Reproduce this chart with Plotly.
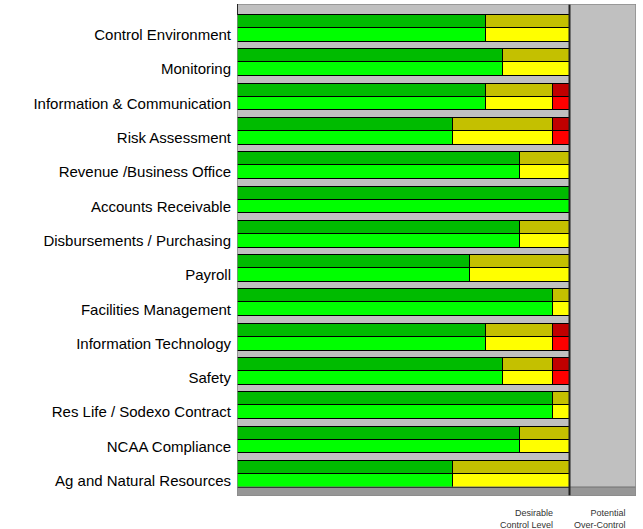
import plotly.graph_objects as go

categories = [
    "Control Environment", "Monitoring", "Information & Communication",
    "Risk Assessment", "Revenue /Business Office", "Accounts Receivable",
    "Disbursements / Purchasing", "Payroll", "Facilities Management",
    "Information Technology", "Safety", "Res Life / Sodexo Contract",
    "NCAA Compliance", "Ag and Natural Resources",
]
green = [75, 80, 75, 65, 85, 100, 85, 70, 95, 75, 80, 95, 85, 65]
yellow = [25, 20, 20, 30, 15, 0, 15, 30, 5, 20, 15, 5, 15, 35]
red = [0, 0, 5, 5, 0, 0, 0, 0, 0, 5, 5, 0, 0, 0]

region_labels = ["Desirable<br>Control Level", "Potential<br>Over-Control"]

# layout geometry (pixel-like units on the y axis)
PITCH = 34.3
H = 492
y_top = [17.5 + PITCH * i for i in range(len(categories))]
y_front = [30.9 + PITCH * i for i in range(len(categories))]

dark = {"g": "#00BB00", "y": "#C4C000", "r": "#C00000"}
bright = {"g": "#00FF00", "y": "#FFFF00", "r": "#FF0000"}

fig = go.Figure()
line = dict(color="#000000", width=1.3)
for key, vals in (("g", green), ("y", yellow), ("r", red)):
    fig.add_trace(go.Bar(x=vals, y=y_top, orientation="h", width=13,
                         marker=dict(color=dark[key], line=line),
                         showlegend=False, hoverinfo="skip"))
for key, vals in (("g", green), ("y", yellow), ("r", red)):
    fig.add_trace(go.Bar(x=vals, y=y_front, orientation="h", width=13.8,
                         marker=dict(color=bright[key], line=line),
                         showlegend=False, hoverinfo="skip"))

shapes = [
    dict(type="rect", xref="x", yref="y", x0=0, x1=120, y0=483, y1=H,
         fillcolor="#969696", line=dict(width=0), layer="below"),
    dict(type="line", xref="x", yref="y", x0=0, x1=120, y0=483, y1=483,
         line=dict(color="#707070", width=1), layer="above"),
    dict(type="line", xref="x", yref="y", x0=100, x1=100, y0=0, y1=H,
         line=dict(color="#202020", width=2), layer="above"),
    dict(type="rect", xref="x", yref="y", x0=0, x1=120, y0=0, y1=H,
         line=dict(color="#8a8a8a", width=1.5), layer="above"),
    dict(type="line", xref="x", yref="y", x0=0, x1=0, y0=0, y1=11,
         line=dict(color="#000000", width=1.5), layer="above"),
]

annotations = [
    dict(text=region_labels[0], xref="x", yref="paper", x=95.6, y=-0.02,
         xanchor="right", yanchor="top", align="right", showarrow=False,
         font=dict(size=9, color="#333333", family="Arial, Liberation Sans")),
    dict(text=region_labels[1], xref="x", yref="paper", x=117.6, y=-0.02,
         xanchor="right", yanchor="top", align="right", showarrow=False,
         font=dict(size=9, color="#333333", family="Arial, Liberation Sans")),
]

fig.update_layout(
    width=643, height=529,
    margin=dict(l=237, r=7, t=4, b=33),
    barmode="stack",
    bargap=0,
    paper_bgcolor="#FFFFFF",
    plot_bgcolor="#C0C0C0",
    font=dict(family="Arial, Liberation Sans", size=15, color="#000000"),
    shapes=shapes,
    annotations=annotations,
    xaxis=dict(range=[0, 120], showgrid=False, zeroline=False,
               showticklabels=False, ticks=""),
    yaxis=dict(range=[H, 0], showgrid=False, zeroline=False,
               tickmode="array", tickvals=y_front, ticktext=categories,
               ticks="outside", ticklen=2, tickcolor="rgba(0,0,0,0)"),
)

fig.write_html("out.html", config={"displayModeBar": False},
               post_script="document.body.style.margin='0';document.body.style.overflow='hidden';")
